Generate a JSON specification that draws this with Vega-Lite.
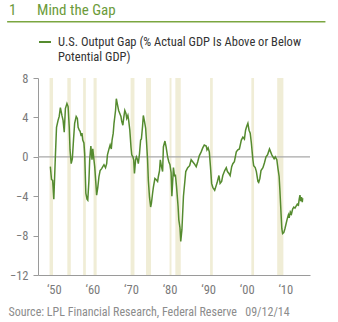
{
  "$schema": "https://vega.github.io/schema/vega-lite/v6.json",
  "autosize": {"type": "none"},
  "padding": {"left": 38, "top": 78, "right": 28, "bottom": 47},
  "width": 272,
  "height": 197,
  "background": "white",
  "config": {
    "font": "Liberation Sans Narrow, Roboto Condensed, DejaVu Sans Condensed, sans-serif",
    "view": {"stroke": null},
    "axis": {"labelOverlap": false, "grid": false},
    "axisY": {"labelOverlap": false, "labelFlush": false, "tickCount": 6}
  },
  "title": {
    "text": "1\u00a0\u00a0\u00a0\u00a0\u00a0\u00a0Mind the Gap",
    "anchor": "start",
    "frame": "group",
    "dx": -29,
    "offset": 3,
    "fontSize": 15,
    "fontWeight": "normal",
    "color": "#6b9b3a"
  },
  "datasets": {
    "recessions": [
      {"start": 1948.9, "end": 1949.8},
      {"start": 1953.5, "end": 1954.4},
      {"start": 1957.6, "end": 1958.3},
      {"start": 1960.3, "end": 1961.1},
      {"start": 1969.9, "end": 1970.9},
      {"start": 1973.9, "end": 1975.2},
      {"start": 1980.0, "end": 1980.5},
      {"start": 1981.5, "end": 1982.9},
      {"start": 1990.5, "end": 1991.2},
      {"start": 2001.2, "end": 2001.9},
      {"start": 2007.9, "end": 2009.5}
    ],
    "gap": [
      {"year": 1949.1, "gap": -1.0}, {"year": 1949.4, "gap": -2.3}, {"year": 1949.7, "gap": -2.4}, {"year": 1950.0, "gap": -4.3},
      {"year": 1950.4, "gap": 0.0}, {"year": 1950.7, "gap": 3.0}, {"year": 1951.1, "gap": 3.7}, {"year": 1951.4, "gap": 4.1},
      {"year": 1951.7, "gap": 5.0}, {"year": 1952.1, "gap": 4.2}, {"year": 1952.4, "gap": 3.7}, {"year": 1952.7, "gap": 2.5},
      {"year": 1953.0, "gap": 4.9}, {"year": 1953.4, "gap": 5.4}, {"year": 1953.7, "gap": 5.1}, {"year": 1954.0, "gap": 3.0},
      {"year": 1954.2, "gap": 0.7}, {"year": 1954.5, "gap": -0.7}, {"year": 1954.8, "gap": -0.2}, {"year": 1955.1, "gap": 1.7},
      {"year": 1955.4, "gap": 3.4}, {"year": 1955.8, "gap": 4.1}, {"year": 1956.1, "gap": 3.9}, {"year": 1956.3, "gap": 3.0},
      {"year": 1956.6, "gap": 2.7}, {"year": 1956.8, "gap": 2.6}, {"year": 1957.1, "gap": 2.1}, {"year": 1957.3, "gap": 2.4},
      {"year": 1957.5, "gap": 1.7}, {"year": 1957.8, "gap": 1.4}, {"year": 1958.0, "gap": 0.3}, {"year": 1958.3, "gap": -3.7},
      {"year": 1958.6, "gap": -4.3}, {"year": 1958.8, "gap": -4.4}, {"year": 1959.1, "gap": -2.4}, {"year": 1959.3, "gap": -0.3},
      {"year": 1959.6, "gap": 1.1}, {"year": 1959.9, "gap": -0.3}, {"year": 1960.1, "gap": 0.8}, {"year": 1960.4, "gap": -0.3},
      {"year": 1960.6, "gap": -1.0}, {"year": 1960.9, "gap": -2.7}, {"year": 1961.1, "gap": -3.9}, {"year": 1961.4, "gap": -3.1},
      {"year": 1961.7, "gap": -2.0}, {"year": 1962.0, "gap": -1.4}, {"year": 1962.4, "gap": -1.2}, {"year": 1962.7, "gap": -1.0},
      {"year": 1963.0, "gap": -0.8}, {"year": 1963.4, "gap": -1.1}, {"year": 1963.7, "gap": -0.7}, {"year": 1963.9, "gap": 0.2},
      {"year": 1964.3, "gap": 0.8}, {"year": 1964.6, "gap": 1.2}, {"year": 1964.9, "gap": 0.8}, {"year": 1965.1, "gap": 1.7},
      {"year": 1965.4, "gap": 2.4}, {"year": 1965.6, "gap": 3.4}, {"year": 1966.0, "gap": 4.7}, {"year": 1966.2, "gap": 5.9},
      {"year": 1966.5, "gap": 5.3}, {"year": 1966.8, "gap": 4.7}, {"year": 1967.1, "gap": 4.4}, {"year": 1967.4, "gap": 4.1},
      {"year": 1967.6, "gap": 3.6}, {"year": 1967.9, "gap": 3.2}, {"year": 1968.1, "gap": 3.9}, {"year": 1968.4, "gap": 4.7},
      {"year": 1968.7, "gap": 4.4}, {"year": 1968.9, "gap": 3.9}, {"year": 1969.2, "gap": 4.2}, {"year": 1969.4, "gap": 3.7},
      {"year": 1969.7, "gap": 2.7}, {"year": 1970.0, "gap": 1.0}, {"year": 1970.2, "gap": 0.2}, {"year": 1970.5, "gap": 0.0},
      {"year": 1970.7, "gap": -0.3}, {"year": 1970.9, "gap": -1.7}, {"year": 1971.2, "gap": -0.3}, {"year": 1971.4, "gap": 0.0},
      {"year": 1971.7, "gap": -0.3}, {"year": 1971.9, "gap": -0.7}, {"year": 1972.2, "gap": 0.3}, {"year": 1972.5, "gap": 1.7},
      {"year": 1972.7, "gap": 1.8}, {"year": 1973.0, "gap": 3.1}, {"year": 1973.2, "gap": 4.2}, {"year": 1973.5, "gap": 3.6},
      {"year": 1973.8, "gap": 2.9}, {"year": 1974.0, "gap": 1.7}, {"year": 1974.3, "gap": -0.3}, {"year": 1974.5, "gap": -2.4},
      {"year": 1974.8, "gap": -4.1}, {"year": 1975.1, "gap": -5.1}, {"year": 1975.3, "gap": -4.7}, {"year": 1975.6, "gap": -3.7},
      {"year": 1975.8, "gap": -3.1}, {"year": 1976.2, "gap": -2.2}, {"year": 1976.5, "gap": -2.3}, {"year": 1976.9, "gap": -2.5},
      {"year": 1977.1, "gap": -2.0}, {"year": 1977.4, "gap": -1.4}, {"year": 1977.6, "gap": -0.3}, {"year": 1977.9, "gap": -1.0},
      {"year": 1978.2, "gap": -1.5}, {"year": 1978.4, "gap": 1.0}, {"year": 1978.8, "gap": 1.6}, {"year": 1979.1, "gap": 1.0},
      {"year": 1979.5, "gap": 0.0}, {"year": 1979.8, "gap": -0.5}, {"year": 1980.1, "gap": -0.8}, {"year": 1980.4, "gap": -1.6},
      {"year": 1980.6, "gap": -4.0}, {"year": 1981.0, "gap": -1.1}, {"year": 1981.3, "gap": -2.0}, {"year": 1981.5, "gap": -1.8},
      {"year": 1981.8, "gap": -3.0}, {"year": 1982.2, "gap": -5.0}, {"year": 1982.4, "gap": -6.4}, {"year": 1982.7, "gap": -7.2},
      {"year": 1982.9, "gap": -8.6}, {"year": 1983.2, "gap": -7.4}, {"year": 1983.6, "gap": -4.0}, {"year": 1984.2, "gap": -1.5},
      {"year": 1984.7, "gap": -1.1}, {"year": 1985.2, "gap": -0.9}, {"year": 1985.6, "gap": -0.3}, {"year": 1986.0, "gap": -0.5},
      {"year": 1986.4, "gap": -0.7}, {"year": 1986.9, "gap": -1.0}, {"year": 1987.3, "gap": -0.5}, {"year": 1987.7, "gap": 0.1},
      {"year": 1988.2, "gap": 0.5}, {"year": 1988.6, "gap": 0.9}, {"year": 1989.0, "gap": 1.2}, {"year": 1989.5, "gap": 1.1},
      {"year": 1989.7, "gap": 0.7}, {"year": 1990.0, "gap": 0.9}, {"year": 1990.3, "gap": 0.5}, {"year": 1990.6, "gap": -1.0},
      {"year": 1990.9, "gap": -2.7}, {"year": 1991.2, "gap": -3.1}, {"year": 1991.7, "gap": -3.4}, {"year": 1992.1, "gap": -2.9},
      {"year": 1992.4, "gap": -2.5}, {"year": 1992.8, "gap": -1.9}, {"year": 1993.1, "gap": -2.7}, {"year": 1993.5, "gap": -2.5},
      {"year": 1993.8, "gap": -1.9}, {"year": 1994.3, "gap": -1.4}, {"year": 1994.7, "gap": -1.1}, {"year": 1995.0, "gap": -1.5},
      {"year": 1995.4, "gap": -1.7}, {"year": 1995.7, "gap": -1.9}, {"year": 1996.1, "gap": -1.0}, {"year": 1996.4, "gap": -0.7},
      {"year": 1996.8, "gap": -0.5}, {"year": 1997.3, "gap": 0.5}, {"year": 1997.7, "gap": 0.7}, {"year": 1998.1, "gap": 0.8},
      {"year": 1998.6, "gap": 1.7}, {"year": 1999.0, "gap": 2.0}, {"year": 1999.4, "gap": 1.8}, {"year": 1999.7, "gap": 2.7},
      {"year": 2000.0, "gap": 3.1}, {"year": 2000.3, "gap": 3.4}, {"year": 2000.6, "gap": 2.7}, {"year": 2000.9, "gap": 2.4},
      {"year": 2001.2, "gap": 1.4}, {"year": 2001.6, "gap": -0.3}, {"year": 2001.8, "gap": -0.9}, {"year": 2002.2, "gap": -1.1},
      {"year": 2002.5, "gap": -1.5}, {"year": 2002.9, "gap": -2.5}, {"year": 2003.1, "gap": -2.6}, {"year": 2003.4, "gap": -2.2},
      {"year": 2003.7, "gap": -1.4}, {"year": 2004.2, "gap": -1.1}, {"year": 2004.6, "gap": -0.6}, {"year": 2005.0, "gap": 0.0},
      {"year": 2005.4, "gap": 0.2}, {"year": 2005.9, "gap": 0.8}, {"year": 2006.1, "gap": 0.6}, {"year": 2006.5, "gap": 0.2},
      {"year": 2006.8, "gap": 0.0}, {"year": 2007.1, "gap": -0.2}, {"year": 2007.4, "gap": 0.0}, {"year": 2007.8, "gap": -0.3},
      {"year": 2008.1, "gap": -1.2}, {"year": 2008.4, "gap": -2.0}, {"year": 2008.6, "gap": -3.4}, {"year": 2008.9, "gap": -5.8},
      {"year": 2009.1, "gap": -7.3}, {"year": 2009.3, "gap": -7.8}, {"year": 2009.6, "gap": -7.7}, {"year": 2009.9, "gap": -7.3},
      {"year": 2010.2, "gap": -6.8}, {"year": 2010.5, "gap": -6.3}, {"year": 2010.8, "gap": -5.9}, {"year": 2011.0, "gap": -6.2},
      {"year": 2011.3, "gap": -5.6}, {"year": 2011.6, "gap": -5.8}, {"year": 2011.9, "gap": -5.3}, {"year": 2012.2, "gap": -5.1},
      {"year": 2012.5, "gap": -5.2}, {"year": 2012.8, "gap": -5.0}, {"year": 2013.1, "gap": -4.8}, {"year": 2013.4, "gap": -4.9},
      {"year": 2013.6, "gap": -4.3}, {"year": 2013.8, "gap": -3.9}, {"year": 2014.0, "gap": -4.5}, {"year": 2014.2, "gap": -4.1},
      {"year": 2014.4, "gap": -4.6}, {"year": 2014.5, "gap": -4.2}
    ]
  },
  "layer": [
    {
      "data": {"name": "recessions"},
      "mark": {"type": "rect", "color": "#f0edd6"},
      "encoding": {
        "x": {"field": "start", "type": "quantitative", "scale": {"domain": [1945.9, 2016.4], "nice": false, "zero": false}},
        "x2": {"field": "end"}
      }
    },
    {
      "data": {"values": [{}]},
      "mark": {"type": "rule", "color": "#a8a8a8", "strokeWidth": 1.2},
      "encoding": {"y": {"datum": 0, "type": "quantitative"}}
    },
    {
      "data": {"name": "gap"},
      "mark": {"type": "line", "strokeWidth": 1.5},
      "encoding": {
        "x": {
          "field": "year", "type": "quantitative",
          "scale": {"domain": [1945.9, 2016.4], "nice": false, "zero": false},
          "axis": {
            "values": [1950, 1960, 1970, 1980, 1990, 2000, 2010],
            "labelExpr": "'\u2018' + substring(toString(datum.value), 2)",
            "ticks": false, "grid": false,
            "domainColor": "#9a9a9a", "domainWidth": 1,
            "labelColor": "#7a7a7a", "labelFontSize": 12.5, "labelPadding": 8, "labelDx": 2,
            "labelFlush": false, "labelOverlap": false,
            "title": "Source: LPL Financial Research, Federal Reserve\u00a0\u00a0\u00a009/12/14",
            "titleX": -30, "titleY": 40, "titleAlign": "left", "titleAnchor": "start",
            "titleBaseline": "alphabetic", "titleFontWeight": "normal",
            "titleColor": "#8c8c8c", "titleFontSize": 12
          }
        },
        "y": {
          "field": "gap", "type": "quantitative",
          "scale": {"domain": [-12, 8], "nice": false, "zero": false},
          "axis": {
            "values": [-12, -8, -4, 0, 4, 8], "grid": false, "tickSize": 5,
            "domainColor": "#9a9a9a", "tickColor": "#9a9a9a",
            "labelColor": "#7a7a7a", "labelFontSize": 12.5, "labelPadding": 5,
            "labelOverlap": false, "labelFlush": false,
            "title": null
          }
        },
        "color": {
          "datum": "U.S. Output Gap (% Actual GDP Is Above or Below Potential GDP)",
          "type": "nominal",
          "scale": {"range": ["#558b2f"]},
          "legend": {
            "orient": "none", "legendX": 0, "legendY": -43, "title": null,
            "symbolType": "stroke", "symbolSize": 144, "symbolStrokeWidth": 2,
            "labelFontSize": 12.5, "labelColor": "#333333", "labelLimit": 0, "labelOffset": 6,
            "labelExpr": "['U.S. Output Gap (% Actual GDP Is Above or Below', 'Potential GDP)']",
            "padding": 0
          }
        }
      }
    },
    {
      "data": {"values": [{}]},
      "mark": {"type": "rule", "color": "#7ba640", "strokeWidth": 1.5},
      "encoding": {
        "x": {"datum": 1937.9, "type": "quantitative"},
        "x2": {"datum": 2020.4},
        "y": {"datum": 13.7, "type": "quantitative"}
      }
    }
  ]
}
